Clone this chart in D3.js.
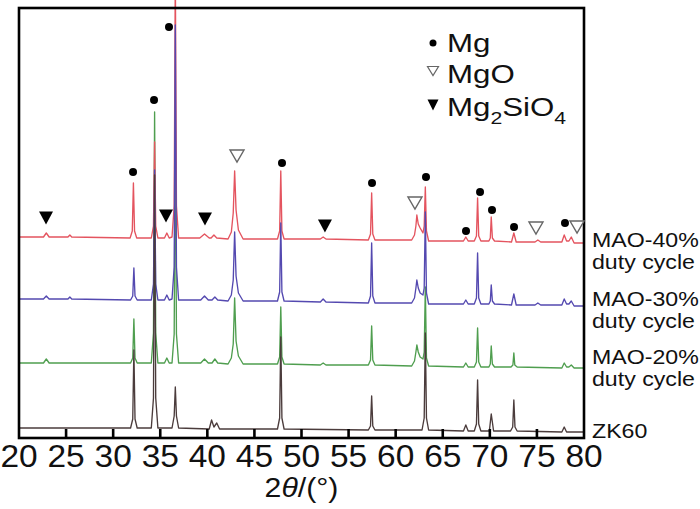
<!DOCTYPE html>
<html>
<head>
<meta charset="utf-8">
<script src="https://cdn.jsdelivr.net/npm/d3@7/dist/d3.min.js"></script>
<style>
  html, body { margin: 0; padding: 0; background: #fff; }
  svg { display: block; font-family: "Liberation Sans", Arial, sans-serif; }
</style>
</head>
<body>
<svg id="chart" width="700" height="509"></svg>
<script>
// ---------------- data (2θ in degrees, intensity in a.u. incl. vertical offset) ----------------
const xTicks = [20, 25, 30, 35, 40, 45, 50, 55, 60, 65, 70, 75, 80];
const seriesNames = ["ZK60", "MAO-20%", "MAO-30%", "MAO-40%"];

const mao40 = [
  [20,201],[22.6,201],[22.9,205],[23.2,201],[25.2,201],[25.4,203],[25.6,201],
  [31.8,200],[32.03,207],[32.15,255],[32.27,207],[32.5,200],
  [34.05,200],[34.28,212],[34.4,296],[34.52,212],[34.75,200],
  [35.45,200],[35.7,205],[35.95,200],
  [36.25,201],[36.48,232],[36.6,470],[36.72,232],[36.95,200],
  [39.2,200],[39.7,204],[40.2,200],[40.4,200],[40.7,203],[41.0,200],
  [42.2,199],[42.55,206],[42.75,225],[42.9,267],[43.05,228],[43.3,208],[43.8,199],
  [47.45,199],[47.68,207],[47.8,267],[47.92,207],[48.15,199],
  [52.0,199],[52.3,201],[52.6,199],
  [57.1,198],[57.33,204],[57.45,245],[57.57,204],[57.8,198],
  [61.7,198],[62.0,203],[62.15,212],[62.25,223],[62.4,214],[62.6,210],
  [62.9,205],[63.03,212],[63.15,251],[63.27,207],[63.5,197],
  [67.2,197],[67.45,201],[67.7,197],
  [68.35,197],[68.58,202],[68.7,240],[68.82,202],[69.05,197],
  [69.9,197],[70.05,200],[70.15,221],[70.27,200],[70.5,197],
  [72.3,196],[72.55,205],[72.8,196],
  [74.8,196],[75.1,198],[75.4,196],[77.65,196],[77.9,203],[78.15,197],
  [78.4,197],[78.65,201],[78.95,195],[80,195]
];

const mao30 = [
  [20,139],[22.6,139],[22.9,142],[23.2,139],[25.2,139],[25.4,141],[25.6,139],
  [31.85,138],[32.08,142],[32.2,170],[32.32,142],[32.55,138],
  [34.05,138],[34.28,154],[34.4,268],[34.52,154],[34.75,138],
  [35.45,138],[35.7,143],[35.95,138],
  [36.25,139],[36.48,171],[36.6,413],[36.72,171],[36.95,138],
  [39.3,138],[39.7,142],[40.1,138],[40.5,138],[40.8,141],[41.1,138],
  [42.2,137],[42.55,143],[42.75,158],[42.9,206],[43.05,162],[43.3,145],[43.8,137],
  [47.45,137],[47.68,146],[47.8,215],[47.92,146],[48.15,137],
  [52.0,136],[52.3,139],[52.6,136],
  [57.1,135],[57.33,142],[57.45,195],[57.57,142],[57.8,135],
  [61.7,135],[62.0,140],[62.15,150],[62.25,158],[62.4,150],[62.6,145],
  [62.9,143],[63.03,150],[63.15,226],[63.27,145],[63.5,134],
  [67.2,134],[67.45,138],[67.7,134],
  [68.35,134],[68.58,140],[68.7,185],[68.82,140],[69.05,134],
  [69.9,134],[70.05,137],[70.15,153],[70.27,137],[70.5,134],
  [72.3,133],[72.55,144],[72.8,133],
  [74.8,133],[75.1,135],[75.4,133],[77.65,133],[77.9,139],[78.15,134],
  [78.4,134],[78.65,137],[78.95,132],[80,132]
];

const mao20 = [
  [20,75],[22.6,75],[22.9,79],[23.2,75],
  [31.85,75],[32.08,80],[32.2,119],[32.32,80],[32.55,75],
  [34.05,75],[34.28,105],[34.4,326],[34.52,105],[34.75,75],
  [35.45,75],[35.7,80],[35.95,75],
  [36.25,75],[36.48,104],[36.6,320],[36.72,104],[36.95,75],
  [39.3,75],[39.7,79],[40.1,75],[40.5,75],[40.8,79],[41.1,75],
  [42.2,74],[42.55,80],[42.75,94],[42.9,140],[43.05,97],[43.3,82],[43.8,74],
  [47.45,74],[47.68,81],[47.8,131],[47.92,81],[48.15,74],
  [52.0,73],[52.3,75],[52.6,73],
  [57.1,73],[57.33,78],[57.45,112],[57.57,78],[57.8,73],
  [61.7,72],[62.0,77],[62.15,86],[62.25,93],[62.4,86],[62.6,81],
  [62.9,79],[63.03,86],[63.15,151],[63.27,80],[63.5,72],
  [67.2,71],[67.45,75],[67.7,71],
  [68.35,71],[68.58,76],[68.7,110],[68.82,76],[69.05,71],
  [69.9,71],[70.05,74],[70.15,92],[70.27,74],[70.5,71],
  [72.25,71],[72.45,73],[72.55,85],[72.65,73],[72.9,71],
  [77.65,70],[77.9,75],[78.15,71],[78.4,71],[78.65,73],[78.95,70],[80,70]
];

const zk60 = [
  [20,10],
  [31.85,10],[32.08,19],[32.2,88],[32.32,19],[32.55,10],
  [34.05,10],[34.28,40],[34.4,263],[34.52,40],[34.75,10],
  [36.25,10],[36.48,22],[36.6,51],[36.72,22],[36.95,10],
  [40.2,9],[40.45,18],[40.7,11],[41.0,15],[41.3,9],
  [47.45,9],[47.68,20],[47.8,101],[47.92,20],[48.15,9],
  [57.1,8],[57.33,12],[57.45,42],[57.57,12],[57.8,8],
  [62.8,8],[63.03,20],[63.15,105],[63.27,20],[63.5,8],
  [67.2,7],[67.45,13],[67.7,7],
  [68.35,7],[68.58,14],[68.7,58],[68.82,14],[69.05,7],
  [69.95,7],[70.15,24],[70.4,7],
  [72.2,7],[72.43,11],[72.55,38],[72.67,11],[72.9,7],
  [77.65,6],[77.9,11],[78.15,6],[80,6]
];

// phase markers [2θ, intensity]
const mgMarks = [[32.11,266],[34.34,338],[35.93,411],[47.93,275],[57.49,255],[63.22,261],
                 [67.47,207],[68.96,246],[70.23,228],[72.57,211],[77.98,215]];
const mgoMarks = [[43.15,282],[62.05,235],[74.9,210],[79.26,211]];
const mg2sio4Marks = [[22.87,220],[35.61,222],[39.75,219],[52.49,212]];

// ---------------- layout ----------------
const svg = d3.select("#chart");
const L = 19, R = 584, T = 8, B = 438;
const x = d3.scaleLinear().domain([20, 80]).range([L, R]);
const y = d3.scaleLinear().domain([0, 430]).range([B, T]);

const colors = { zk60: "#4b3c3c", mao20: "#4f9e4f", mao30: "#5449b0", mao40: "#e4545f" };

const line = d3.line().x(d => x(d[0])).y(d => y(d[1]));

// draw order: green, red, blue, black
[[mao20, colors.mao20], [mao40, colors.mao40], [mao30, colors.mao30], [zk60, colors.zk60]]
  .forEach(([data, c]) => {
    svg.append("path").datum(data)
      .attr("d", line).attr("fill", "none")
      .attr("stroke", c).attr("stroke-width", 1.35).attr("stroke-linejoin", "round");
  });

// frame
svg.append("rect").attr("x", L).attr("y", T).attr("width", R - L).attr("height", B - T)
  .attr("fill", "none").attr("stroke", "#000").attr("stroke-width", 2.6);

// inner ticks on bottom axis
svg.append("g").selectAll("line").data(xTicks.slice(1, -1)).join("line")
  .attr("x1", d => x(d)).attr("x2", d => x(d))
  .attr("y1", B).attr("y2", B - 9)
  .attr("stroke", "#000").attr("stroke-width", 2.6);

// tick labels
svg.append("g").selectAll("text").data(xTicks).join("text")
  .attr("transform", d => `translate(${x(d)},467) scale(1.08,1)`)
  .attr("text-anchor", "middle").attr("font-size", 31).attr("fill", "#111")
  .text(d => d);

// axis title 2θ/(°)
const xt = svg.append("text")
  .attr("transform", `translate(${(L + R) / 2},497) scale(1.08,1)`)
  .attr("text-anchor", "middle").attr("font-size", 28).attr("fill", "#111");
xt.append("tspan").text("2");
xt.append("tspan").attr("font-style", "italic").text("θ");
xt.append("tspan").text("/(°)");

// markers
const triDown = (w, h) => `M${-w/2},${-h/2}L${w/2},${-h/2}L0,${h/2}Z`;
svg.append("g").selectAll("circle").data(mgMarks).join("circle")
  .attr("cx", d => x(d[0])).attr("cy", d => y(d[1])).attr("r", 4).attr("fill", "#000");
svg.append("g").selectAll("path").data(mgoMarks).join("path")
  .attr("transform", d => `translate(${x(d[0])},${y(d[1])})`)
  .attr("d", triDown(14, 12)).attr("fill", "#fff").attr("stroke", "#666").attr("stroke-width", 1.4);
svg.append("g").selectAll("path").data(mg2sio4Marks).join("path")
  .attr("transform", d => `translate(${x(d[0])},${y(d[1])})`)
  .attr("d", triDown(14, 13)).attr("fill", "#000");

// legend
const lg = svg.append("g");
lg.append("circle").attr("cx", 433).attr("cy", 43).attr("r", 3.5).attr("fill", "#000");
lg.append("path").attr("transform", "translate(433,71)").attr("d", triDown(11, 9))
  .attr("fill", "#fff").attr("stroke", "#666").attr("stroke-width", 1.2);
lg.append("path").attr("transform", "translate(433,105)").attr("d", triDown(11, 11)).attr("fill", "#000");
const legendLabels = [
  { y: 52, parts: [["Mg", false]] },
  { y: 83, parts: [["MgO", false]] },
  { y: 116, parts: [["Mg", false], ["2", true], ["SiO", false], ["4", true]] }
];
legendLabels.forEach(l => {
  const t = lg.append("text").attr("transform", `translate(447,${l.y}) scale(1.25,1)`)
    .attr("font-size", 25).attr("fill", "#111");
  l.parts.forEach(([s, sub], i) => {
    const ts = t.append("tspan").text(s);
    if (sub) ts.attr("font-size", 17).attr("dy", 8);
    else if (i > 0) ts.attr("dy", -8);
  });
});

// right-side series labels
const sideLabels = [
  ["MAO-40%", 247], ["duty cycle", 269],
  ["MAO-30%", 306], ["duty cycle", 328],
  ["MAO-20%", 364], ["duty cycle", 386],
  ["ZK60", 438]
];
svg.append("g").selectAll("text").data(sideLabels).join("text")
  .attr("transform", d => `translate(592,${d[1]}) scale(1.17,1)`)
  .attr("font-size", 19.8).attr("fill", "#111")
  .text(d => d[0]);
</script>
</body>
</html>
